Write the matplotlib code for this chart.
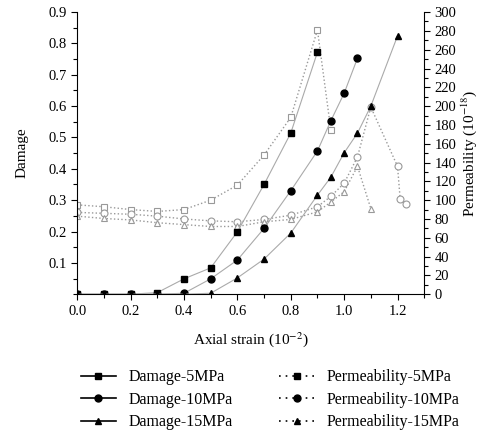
import matplotlib
matplotlib.use('Agg')
import matplotlib.pyplot as plt
from matplotlib.lines import Line2D
from matplotlib.ticker import MultipleLocator

plt.rcParams['font.family'] = ['Liberation Serif', 'DejaVu Serif']
plt.rcParams['mathtext.fontset'] = 'stix'

# damage curves (left axis)
d5_x = [0.0, 0.1, 0.2, 0.3, 0.4, 0.5, 0.6, 0.7, 0.8, 0.9]
d5_y = [0.0, 0.0, 0.0, 0.005, 0.049, 0.084, 0.199, 0.35, 0.514, 0.772]
d10_x = [0.0, 0.1, 0.2, 0.3, 0.4, 0.5, 0.6, 0.7, 0.8, 0.9, 0.95, 1.0, 1.05]
d10_y = [0.0, 0.0, 0.0, 0.0, 0.003, 0.049, 0.109, 0.21, 0.33, 0.457, 0.553, 0.641, 0.753]
d15_x = [0.0, 0.1, 0.2, 0.3, 0.4, 0.5, 0.6, 0.7, 0.8, 0.9, 0.95, 1.0, 1.05, 1.1, 1.2]
d15_y = [0.0, 0.0, 0.0, 0.0, 0.0, 0.003, 0.052, 0.112, 0.195, 0.316, 0.373, 0.451, 0.514, 0.6, 0.824]

# permeability curves (right axis, 10^-18)
p5_x = [0.0, 0.1, 0.2, 0.3, 0.4, 0.5, 0.6, 0.7, 0.8, 0.9, 0.95]
p5_y = [95, 93, 90, 88, 90, 100, 116, 148, 188, 281, 175]
p10_x = [0.0, 0.1, 0.2, 0.3, 0.4, 0.5, 0.6, 0.7, 0.8, 0.9, 0.95, 1.0, 1.05, 1.1, 1.2, 1.21, 1.23]
p10_y = [87, 86, 85, 83, 80, 78, 77, 79.5, 84, 93, 104, 118, 146, 199, 136, 101, 96]
p15_x = [0.0, 0.1, 0.2, 0.3, 0.4, 0.5, 0.6, 0.7, 0.8, 0.9, 0.95, 1.0, 1.05, 1.1]
p15_y = [83, 80.5, 79, 76, 74, 72, 72, 77, 79.5, 87.6, 98, 109, 136, 91]

labels = ['Damage-5MPa', 'Damage-10MPa', 'Damage-15MPa',
          'Permeability-5MPa', 'Permeability-10MPa', 'Permeability-15MPa']

fig = plt.figure(figsize=(4.95, 4.32), dpi=100)
ax = fig.add_axes([0.156, 0.319, 0.701, 0.653])
ax2 = ax.twinx()

grey = '#999999'
ms = 5
for x, y, m in [(p5_x, p5_y, 's'), (p10_x, p10_y, 'o'), (p15_x, p15_y, '^')]:
    ax2.plot(x, y, linestyle=':', color=grey, lw=1.0, marker=m, ms=ms,
             mfc='white', mec=grey, mew=0.8)
for x, y, m in [(d5_x, d5_y, 's'), (d10_x, d10_y, 'o'), (d15_x, d15_y, '^')]:
    ax.plot(x, y, '-', color='#aaaaaa', lw=0.8, marker=m, ms=ms,
            mfc='black', mec='black', zorder=5)
ax.set_zorder(ax2.get_zorder() + 1)
ax.patch.set_visible(False)

ax.set_xlim(0, 1.3)
ax.set_ylim(0, 0.9)
ax2.set_ylim(0, 300)
ax.xaxis.set_minor_locator(MultipleLocator(0.1))
ax.set_xticks([0.0, 0.2, 0.4, 0.6, 0.8, 1.0, 1.2])
ax.set_yticks([0.1, 0.2, 0.3, 0.4, 0.5, 0.6, 0.7, 0.8, 0.9])
ax.yaxis.set_minor_locator(MultipleLocator(0.05))
ax2.yaxis.set_major_locator(MultipleLocator(20))
ax2.yaxis.set_minor_locator(MultipleLocator(10))

for a in (ax, ax2):
    a.spines['top'].set_visible(False)
    a.tick_params(which='major', length=4, width=0.8, labelsize=10.5, direction='out')
    a.tick_params(which='minor', length=3, width=0.8, direction='out')
ax.spines['right'].set_visible(False)
ax2.spines['left'].set_visible(False)
ax2.spines['bottom'].set_visible(False)

ax.set_xlabel(r'Axial strain (10$^{-2}$)', fontsize=11, labelpad=9)
ax.set_ylabel('Damage', fontsize=11, labelpad=14)
ax2.set_ylabel(r'Permeability (10$^{-18}$)', fontsize=11, labelpad=2)

handles = []
for m in ['s', 'o', '^']:
    handles.append(Line2D([], [], color='black', lw=1.2, ls='-', marker=m, ms=5))
for m in ['s', 'o', '^']:
    handles.append(Line2D([], [], color='black', lw=1.2, ls=(0, (1, 3)), marker=m, ms=5))
fig.legend(handles, labels, ncol=2, loc='upper left', bbox_to_anchor=(0.163, 0.145),
           frameon=False, fontsize=11.5, handlelength=2.2, handletextpad=0.8,
           columnspacing=2.9, labelspacing=0.4, borderpad=0, borderaxespad=0)

fig.savefig('out.png', dpi=100)
